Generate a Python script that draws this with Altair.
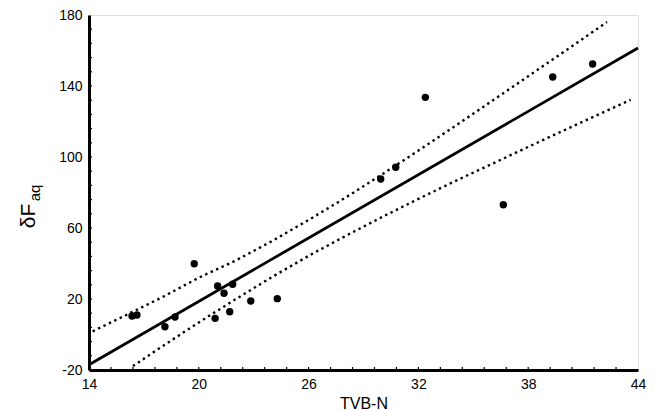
import altair as alt
import pandas as pd

# ---- data ----
x_ticks = [14, 20, 26, 32, 38, 44]
y_ticks = [-20, 20, 60, 100, 140, 180]

tvbn = [16.35, 16.62, 18.15, 18.70, 19.75, 20.89, 21.03, 21.38, 21.69, 21.85,
        22.84, 24.29, 29.94, 30.76, 32.38, 36.64, 39.34, 41.52]
dfaq = [10.4, 11.0, 4.4, 9.9, 39.9, 9.1, 27.3, 23.2, 12.8, 28.3,
        18.9, 20.2, 87.6, 94.2, 133.6, 73.1, 145.1, 152.4]

fit_x = [14, 44]
fit_y = [-17.0, 161.4]

upper_x = [14.2, 16, 18, 20, 22, 24, 26, 28, 30, 32, 34, 36, 38, 40, 42.3]
upper_y = [1.8, 10.8, 21.0, 32.0, 41.6, 52.6, 64.5, 77.0, 90.1, 103.6, 117.4,
           131.4, 145.5, 159.6, 176.0]
lower_x = [16.4, 18, 20, 22, 24, 26, 28, 30, 32, 34, 36, 38, 40, 42, 43.6]
lower_y = [-17.8, -6.7, 6.8, 19.8, 32.4, 44.3, 55.4, 66.1, 76.4, 86.4, 96.0,
           105.7, 115.2, 124.7, 132.2]

x_minor = [15.2, 16.4, 17.6, 18.8, 20, 21.2, 22.4, 23.6, 24.8, 26, 27.2, 28.4,
           29.6, 30.8, 32, 33.2, 34.4, 35.6, 36.8, 38, 39.2, 40.4, 41.6, 42.8]
y_minor = [-12, -4, 4, 12, 20, 28, 36, 44, 52, 60, 68, 76, 84, 92, 100, 108,
           116, 124, 132, 140, 148, 156, 164, 172]

FONT = "Liberation Sans"
W, H = 549, 355

xs = alt.Scale(domain=[14, 44], nice=False, zero=False)
ys = alt.Scale(domain=[-20, 180], nice=False, zero=False)

x_axis = alt.Axis(values=x_ticks, title="TVB-N", grid=False, tickSize=0,
                  labelExpr="'' + datum.value",
                  labelFontSize=14, labelFont=FONT, labelColor="black",
                  labelPadding=7, titleFontSize=16, titleFont=FONT,
                  titleFontWeight="normal", titleColor="black", titlePadding=4,
                  domainColor="black", domainWidth=3, labelFlush=False)
y_axis = alt.Axis(values=y_ticks, title=None, grid=False, tickSize=0,
                  labelExpr="'' + datum.value",
                  labelFontSize=14, labelFont=FONT, labelColor="black",
                  labelPadding=7, domainColor="black", domainWidth=3)

X = alt.X("x:Q", scale=xs, axis=x_axis)
Y = alt.Y("y:Q", scale=ys, axis=y_axis)

pts = alt.Chart(pd.DataFrame({"x": tvbn, "y": dfaq})).mark_circle(
    size=55, color="black", opacity=1).encode(x=X, y=Y)

fit = alt.Chart(pd.DataFrame({"x": fit_x, "y": fit_y})).mark_line(
    color="black", strokeWidth=2.8).encode(x=X, y=Y)

upper = alt.Chart(pd.DataFrame({"x": upper_x, "y": upper_y})).mark_line(
    color="black", strokeWidth=2.4, strokeDash=[2.4, 3.6]).encode(x=X, y=Y)
lower = alt.Chart(pd.DataFrame({"x": lower_x, "y": lower_y})).mark_line(
    color="black", strokeWidth=2.4, strokeDash=[2.4, 3.6]).encode(x=X, y=Y)

xt = alt.Chart(pd.DataFrame({"x": x_minor})).mark_rule(
    color="black", strokeWidth=1.2).encode(x=X, y=alt.value(H), y2=alt.value(H - 3))
yt = alt.Chart(pd.DataFrame({"y": y_minor})).mark_rule(
    color="black", strokeWidth=1.2).encode(y=Y, x=alt.value(0), x2=alt.value(3))

lab = pd.DataFrame({"t": [0]})
t1 = alt.Chart(lab).mark_text(text="δF", angle=270, align="center", baseline="middle",
                              font=FONT, fontSize=21, color="black").encode(
    x=alt.value(-60), y=alt.value(201))
t2 = alt.Chart(lab).mark_text(text="aq", angle=270, align="center", baseline="middle",
                              font=FONT, fontSize=15, color="black").encode(
    x=alt.value(-54), y=alt.value(178))

chart = alt.layer(yt, xt, upper, lower, fit, pts, t1, t2).properties(
    width=W, height=H,
    autosize=alt.AutoSizeParams(type="none"),
    padding={"left": 81, "top": 7, "right": 8, "bottom": 40},
).configure_view(stroke="black", strokeWidth=2.4).configure(background="white")

chart.save("out.html", embed_options={"renderer": "svg", "actions": False})
